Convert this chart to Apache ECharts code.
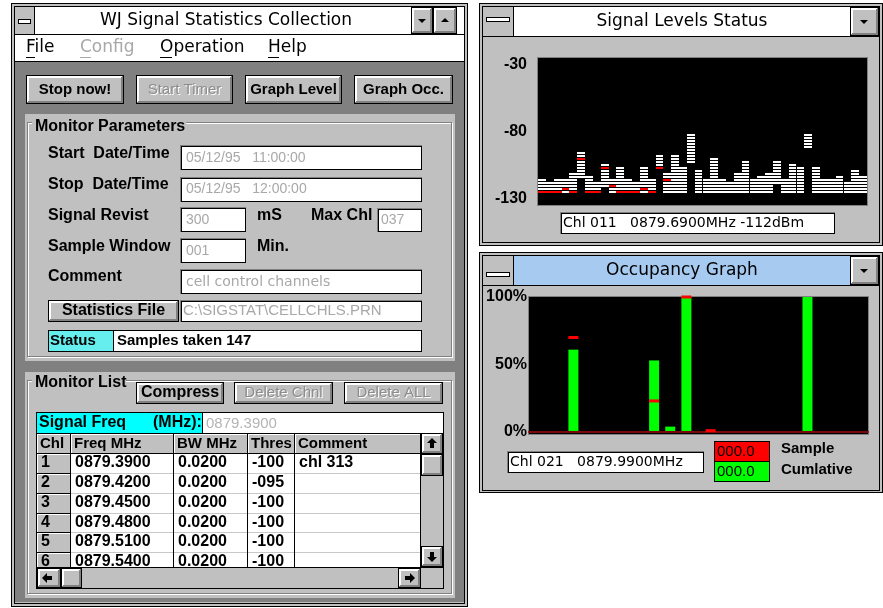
<!DOCTYPE html>
<html><head><meta charset="utf-8">
<script src="https://cdn.jsdelivr.net/npm/echarts@6/dist/echarts.min.js"></script>
<style>html,body{margin:0;padding:0;background:#fff}#c{width:883px;height:608px}</style>
</head><body><div id="c"></div>
<script>
// ---------------- DATA ----------------
const sigChannels = ['1','2','3','4','5','6','7','8','9','10','11','12','13','14','15','16','17','18','19','20','21','22','23','24','25','26','27','28','29','30','31','32','33','34','35','36','37','38','39','40','41','42'];
// highest level seen per channel (dBm)
const sigHigh = [-117,-120,-118,-117,-113,-96,-115,-120,-106,-116,-107,-117,-120,-107,-118,-100,-112,-100,-107,-83,-110,-117,-101,-118,-120,-112,-104,-117,-115,-112,-104,-118,-106,-107,-83,-108,-118,-117,-114,-120,-111,-115];
// lowest level seen per channel (dBm)
const sigLow = [-126,-126,-126,-126,-126,-114,-126,-126,-121,-126,-126,-126,-126,-126,-126,-108,-126,-126,-126,-104,-126,-126,-126,-126,-126,-126,-126,-126,-126,-126,-119,-126,-126,-126,-93,-126,-126,-126,-126,-126,-126,-126];
// current sample level (dBm)
const sigRed = [-126,-126,-126,-123,-126,-101,-126,-126,-107,-121,-126,-126,-126,-123,-126,-107,-117,null,null,null,null,null,null,null,null,null,null,null,null,null,null,null,null,null,null,null,null,null,null,null,null,null];
const sigTicks = [-130,-80,-30];

const occChannels = ['1','2','3','4','5','6','7','8','9','10','11','12','13','14','15','16','17','18','19','20','21','22','23','24','25','26','27','28','29','30','31','32','33','34','35','36','37','38','39','40','41','42'];
const occCumulative = [0,0,0,0,0,61,0,0,0,0,0,0,0,0,0,53,0,4,0,100,0,0,0,0,0,0,0,0,0,0,0,0,0,0,100,0,0,0,0,0,0,0];
const occSample = [0,0,0,0,0,70,0,0,0,0,0,0,0,0,0,23,0,0,0,100,0,0,1,0,0,0,0,0,0,0,0,0,0,0,0,0,0,0,0,0,0,0];

const tableRows = [
  ['1','0879.3900','0.0200','-100','chl 313'],
  ['2','0879.4200','0.0200','-095',''],
  ['3','0879.4500','0.0200','-100',''],
  ['4','0879.4800','0.0200','-100',''],
  ['5','0879.5100','0.0200','-100',''],
  ['6','0879.5400','0.0200','-100','']
];

// ---------------- CHROME ----------------
const LS = "'Liberation Sans', Arial, sans-serif";
const DV = "'DejaVu Sans', sans-serif";
const B15 = 'bold 15px ' + LS, B16 = 'bold 16px ' + LS, R14 = '14px ' + LS, R15 = '15px ' + LS;
const D17 = '17px ' + DV, D14 = '14px ' + DV;
const G = []; let zc = 0;
function add(e){ e.silent = true; e.z = zc * 0.0003; e.z2 = zc; zc++; G.push(e); }
function R(x,y,w,h,fill){ add({type:'rect',shape:{x:x,y:y,width:w,height:h},style:{fill:fill}}); }
function BOX(x,y,w,h,c){ R(x,y,w,1,c); R(x,y+h-1,w,1,c); R(x,y,1,h,c); R(x+w-1,y,1,h,c); }
function T(x,y,s,f,c,a){ add({type:'text',x:x,y:y,style:{text:s,font:f,fill:c||'#000',textAlign:a||'left',align:a||'left',textVerticalAlign:'middle',verticalAlign:'middle'}}); }
function P(pts,c){ add({type:'polygon',shape:{points:pts},style:{fill:c||'#000'}}); }
function raised(x,y,w,h){
  R(x,y,w,h,'#000'); R(x+1,y+1,w-2,h-2,'#c0c0c0');
  R(x+1,y+1,w-3,1,'#fff'); R(x+1,y+1,1,h-3,'#fff'); R(x+2,y+2,w-5,1,'#fff'); R(x+2,y+2,1,h-5,'#fff');
  R(x+1,y+h-2,w-2,1,'#808080'); R(x+w-2,y+1,1,h-2,'#808080'); R(x+2,y+h-3,w-4,1,'#808080'); R(x+w-3,y+2,1,h-4,'#808080');
}
function button(x,y,w,h,label,f,disabled){
  raised(x,y,w,h); const cx = x + w/2, cy = y + h/2;
  if (disabled){ T(cx+1,cy+1,label,f,'#fff','center'); T(cx,cy,label,f,'#8c8c8c','center'); }
  else T(cx,cy,label,f,'#000','center');
}
function field(x,y,w,h){ R(x,y,w,h,'#808080'); R(x+1,y+1,w-1,h-1,'#000'); R(x+2,y+2,w-3,h-3,'#fff'); }
function triDown(cx,cy,s){ P([[cx-s,cy-s/2],[cx+s,cy-s/2],[cx,cy+s/2]]); }
function triUp(cx,cy,s){ P([[cx-s,cy+s/2],[cx+s,cy+s/2],[cx,cy-s/2]]); }
function arrowUp(cx,cy){ P([[cx-5,cy],[cx+5,cy],[cx,cy-5]]); R(cx-2,cy,4,5,'#000'); }
function arrowDown(cx,cy){ P([[cx-5,cy],[cx+5,cy],[cx,cy+5]]); R(cx-2,cy-5,4,5,'#000'); }
function arrowLeft(cx,cy){ P([[cx,cy-5],[cx,cy+5],[cx-5,cy]]); R(cx,cy-2,5,4,'#000'); }
function arrowRight(cx,cy){ P([[cx,cy-5],[cx,cy+5],[cx+5,cy]]); R(cx-5,cy-2,5,4,'#000'); }
function sysBox(x,y,w,h,by){ R(x,y,w,h,'#c0c0c0'); R(x+w,y,1,h,'#000'); R(x+3,by,w-6,5,'#000'); R(x+4,by+1,w-8,3,'#fff'); }

// ===== Left window =====
R(11,3,457,604,'#000'); R(12,4,455,602,'#c0c0c0'); BOX(14,6,451,598,'#000');
R(15,7,449,27,'#fff');
sysBox(15,7,19,27,19);
T(226,21,'WJ Signal Statistics Collection',D17,'#000','center');
raised(411,7,22,27); triDown(422,21,4);
raised(433,7,24,27); triUp(445,20,4);
R(15,34,449,1,'#000');
R(15,35,449,26,'#fff');
T(26,48,'File',D17); R(26,57,9,1,'#000');
T(80,48,'Config',D17,'#a8a8a8'); R(80,57,11,1,'#a8a8a8');
T(160,48,'Operation',D17); R(160,57,12,1,'#000');
T(268,48,'Help',D17); R(268,57,11,1,'#000');
R(15,61,449,1,'#000');
R(15,62,449,540,'#808080');

button(26,75,98,29,'Stop now!',B15);
button(136,75,97,29,'Start Timer',R15,true);
button(245,75,97,29,'Graph Level',B15);
button(354,75,99,29,'Graph Occ.',B15);

// Monitor Parameters
R(25,114,430,247,'#c0c0c0');
BOX(28,123,425,235,'#fff'); BOX(27,122,425,235,'#808080');
R(32,116,154,20,'#c0c0c0'); T(35,127,'Monitor Parameters',B16);
T(48,154,'Start  Date/Time',B16);
field(180,145,242,25); T(186,158,'05/12/95   11:00:00',R14,'#a8a8a8');
T(48,185,'Stop  Date/Time',B16);
field(180,177,242,25); T(186,189,'05/12/95   12:00:00',R14,'#a8a8a8');
T(48,216,'Signal Revist',B16);
field(180,207,66,25); T(186,220,'300',R14,'#a8a8a8');
T(257,216,'mS',B16); T(311,216,'Max Chl',B16);
field(377,208,45,24); T(381,220,'037',R14,'#a8a8a8');
T(48,247,'Sample Window',B16);
field(180,238,66,25); T(186,251,'001',R14,'#a8a8a8');
T(257,247,'Min.',B16);
T(48,277,'Comment',B16);
field(180,269,242,25); T(186,282,'cell control channels',D14,'#a8a8a8');
button(48,300,131,22,'Statistics File',B16);
field(180,300,242,22); T(183,311,'C:\\SIGSTAT\\CELLCHLS.PRN',R15,'#a8a8a8');
R(48,330,374,22,'#000'); R(49,331,64,20,'#66eeee'); R(114,331,307,20,'#fff');
T(50,341,'Status',B15); T(117,341,'Samples taken 147',B15);

// Monitor List
R(25,372,430,226,'#c0c0c0');
BOX(28,381,425,214,'#fff'); BOX(27,380,425,214,'#808080');
R(32,374,94,20,'#c0c0c0'); T(35,383,'Monitor List',B16);
button(136,382,88,22,'Compress',B16);
button(234,382,99,22,'Delete Chnl',R15,true);
button(344,382,99,22,'Delete ALL',R15,true);

// table
R(36,412,408,177,'#000');
R(37,413,165,20,'#00ffff'); T(39,423,'Signal Freq',B16); T(153,423,'(MHz):',B16);
R(203,413,240,20,'#fff'); T(206,424,'0879.3900',R15,'#b4b4b4');
const colX = [37,71,174,248,295,421];
const heads = ['Chl','Freq MHz','BW MHz','Thres','Comment'];
for (let c=0;c<5;c++){
  R(colX[c],434,colX[c+1]-colX[c]-1,19,'#c0c0c0');
  R(colX[c],434,colX[c+1]-colX[c]-1,1,'#fff'); R(colX[c],434,1,19,'#fff');
  T(colX[c]+3,444,heads[c],B15);
}
R(71,453,350,114,'#fff');
const rowY = [453,473,493,513,532,552];
for (let r=0;r<tableRows.length;r++){
  const y0 = rowY[r], y1 = (r<5?rowY[r+1]:575);
  R(37,y0+1,33,y1-y0-1,'#c0c0c0'); R(37,y0+1,33,1,'#fff'); R(37,y0+1,1,y1-y0-1,'#fff');
  R(71,y1,350,1,'#c8c8c8');
  const cy = y0 + 10;
  T(41,cy,tableRows[r][0],B16);
  for (let c=1;c<5;c++) T(colX[c]+4,cy,tableRows[r][c],B16);
  R(37,y0,33,1,'#000');
}
for (let c=1;c<5;c++) R(colX[c]-1,434,1,134,'#000');
R(37,453,384,1,'#000');
// vertical scroll bar
R(420,433,1,135,'#000');
raised(421,433,22,21); arrowUp(432,443);
raised(421,454,22,22);
R(421,476,22,70,'#c0c0c0');
raised(421,546,22,21); arrowDown(432,557);
// horizontal scroll bar
R(37,567,406,1,'#000');
raised(37,568,24,20); arrowLeft(47,578);
raised(61,568,21,20);
R(82,568,316,20,'#c0c0c0');
raised(398,568,23,20); arrowRight(410,578);
R(421,568,22,20,'#c0c0c0');

// ===== Signal Levels window =====
R(479,3,404,243,'#000'); R(480,4,402,241,'#c0c0c0'); BOX(482,6,398,237,'#000');
sysBox(483,7,30,29,17);
R(514,7,336,29,'#fff');
T(682,22,'Signal Levels Status',D17,'#000','center');
raised(850,7,29,29); triDown(864,22,4);
R(483,36,396,1,'#000');
R(537,57,331,149,'#808080'); R(538,58,329,147,'#000');
field(560,212,275,22); T(563,223,'Chl 011   0879.6900MHz -112dBm',D14);

// ===== Occupancy window =====
R(479,252,404,241,'#000'); R(480,253,402,239,'#c0c0c0'); BOX(482,255,398,236,'#000');
sysBox(483,256,30,29,272);
R(514,256,336,29,'#a6caf0');
T(682,271,'Occupancy Graph',D17,'#000','center');
raised(850,256,29,29); triDown(864,271,4);
R(483,285,396,1,'#000');
R(528,296,341,139,'#808080'); R(529,297,339,137,'#000');
field(507,451,197,22); T(510,462,'Chl 021   0879.9900MHz',D14);
R(714,441,56,21,'#000'); R(715,442,54,19,'#ff0000'); T(717,452,'000.0',R15);
R(714,461,56,21,'#000'); R(715,462,54,19,'#00ff00'); T(717,472,'000.0',R15);
T(781,449,'Sample',B15); T(781,470,'Cumlative',B15);

// ---------------- SERIES ----------------
function stripes(color){
  return function(params, api){
    const cs = params.coordSys; const base = cs.y + cs.height;
    const i = api.value(0);
    const pl = api.coord([i, api.value(1)]), ph = api.coord([i, api.value(2)]);
    const w = api.size([1,0])[0];
    const x0 = Math.round(pl[0]-w/2), x1 = Math.round(pl[0]+w/2);
    const kMin = Math.ceil((base-pl[1])/3 - 0.5), kMax = Math.floor((base-ph[1])/3 + 0.5);
    const ch = [];
    for (let k=kMin;k<=kMax;k++){
      const y = Math.round(base - 3*k);
      ch.push({type:'rect',shape:{x:x0,y:y-2,width:x1-x0,height:2},style:{fill:color}});
    }
    return {type:'group',children:ch};
  };
}
const sigRangeData = sigChannels.map((c,i)=>[c, sigLow[i], sigHigh[i]]);
const sigRedData = sigChannels.map((c,i)=> sigRed[i]==null ? [c,'-','-'] : [c, sigRed[i], sigRed[i]]);
const occRedData = occSample.map(v => v>0 ? v : '-');

const axisFont = {fontFamily:LS, fontWeight:'bold', fontSize:16, color:'#000'};
const option = {
  animation:false,
  backgroundColor:'#ffffff',
  graphic:{elements:G},
  grid:[
    {left:538, top:58, width:329, height:147, outerBoundsMode:'none', containLabel:false},
    {left:529, top:297, width:339, height:135, outerBoundsMode:'none', containLabel:false}
  ],
  xAxis:[
    {gridIndex:0, type:'category', data:sigChannels, show:false},
    {gridIndex:1, type:'category', data:occChannels, z:3,
     axisLine:{show:true, lineStyle:{color:'#7a0a0a', width:2}}, axisTick:{show:false}, axisLabel:{show:false}, splitLine:{show:false}}
  ],
  yAxis:[
    {gridIndex:0, type:'value', min:-135, max:-25, z:3,
     axisLine:{show:false}, axisTick:{show:false}, splitLine:{show:false},
     axisLabel:Object.assign({customValues:sigTicks, margin:11, showMinLabel:true, showMaxLabel:true}, axisFont)},
    {gridIndex:1, type:'value', min:0, max:100, interval:50, z:3,
     axisLine:{show:false}, axisTick:{show:false}, splitLine:{show:false},
     axisLabel:Object.assign({formatter:'{value}%', margin:2, padding:[0,0,10,0]}, axisFont)}
  ],
  series:[
    {type:'custom', xAxisIndex:0, yAxisIndex:0, renderItem:stripes('#ffffff'), data:sigRangeData, encode:{x:0,y:[1,2]}, clip:true, z:2, silent:true},
    {type:'custom', xAxisIndex:0, yAxisIndex:0, renderItem:stripes('#ff0000'), data:sigRedData, encode:{x:0,y:[1,2]}, clip:true, z:3, silent:true},
    {type:'bar', xAxisIndex:1, yAxisIndex:1, data:occCumulative, barWidth:10, itemStyle:{color:'#00ff00'}, z:2, silent:true},
    {type:'scatter', xAxisIndex:1, yAxisIndex:1, data:occRedData, symbol:'rect', symbolSize:[10,3], itemStyle:{color:'#ff0000', opacity:1}, z:4, silent:true, clip:true}
  ]
};
const chart = echarts.init(document.getElementById('c'), null, {renderer:'canvas'});
chart.setOption(option);
</script>
</body></html>
